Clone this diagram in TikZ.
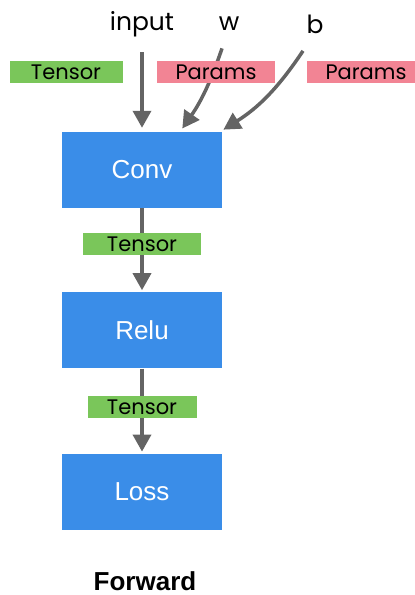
\documentclass[tikz,border=0pt]{standalone}
\usepackage{fontspec}
\setsansfont{Liberation Sans}
\newfontfamily\handfont{Poppins}
\usepackage{tikz}
\usetikzlibrary{positioning,arrows.meta}

\definecolor{layerblue}{RGB}{58,141,232}
\definecolor{tensorgreen}{RGB}{122,198,90}
\definecolor{paramspink}{RGB}{242,132,148}
\definecolor{flowgray}{RGB}{100,100,100}

\tikzset{
  layer/.style={minimum width=160pt, minimum height=76pt, fill=layerblue, text=white, font=\sffamily\fontsize{26}{30}\selectfont},
  varname/.style={font=\handfont\fontsize{25}{30}\selectfont},
  tag/.style={minimum height=22pt, inner sep=0pt, font=\handfont\fontsize{21}{24}\selectfont},
  flow/.style={draw=flowgray, line width=3.5pt, -{Triangle[width=18pt,length=17pt]}}
}

\begin{document}
\begin{tikzpicture}[x=1pt,y=-1pt]
		\useasboundingbox (0,0) rectangle (415,595);

		\node[layer] (conv) at (142,170) {Conv};
		\node[layer, below=84pt of conv] (relu) {Relu};
		\node[layer, below=85pt of relu] (loss) {Loss};
		\node[inner sep=0pt, font=\sffamily\bfseries\fontsize{26}{30}\selectfont] (fwd) at (145,581) {Forward};

		\node[varname] (input) at (142,24) {input};
		\node[varname] (w) at (229,24) {w};
		\node[varname] (b) at (315,24) {b};

		% arrows from the inputs
		\draw[flow, shorten <=12pt, shorten >=4pt] (input.south) -- (conv.north);
		\draw[flow, shorten >=4pt] ([xshift=-7pt,yshift=-14pt]w.south) to[bend left=8] ([xshift=38pt]conv.north);
		\draw[flow, shorten >=4pt] ([xshift=-12pt,yshift=-14pt]b.south) to[bend left=12] ([xshift=78pt]conv.north);

		\draw[flow, shorten >=2pt] (conv) -- (relu);
		\draw[flow, shorten >=2pt] (relu) -- (loss);

		% tags
		\node[tag, fill=tensorgreen, minimum width=113pt] (intag) at (66,72) {Tensor};
		\node[tag, fill=paramspink, minimum width=118pt] (wtag) at (216,72) {Params};
		\node[tag, fill=paramspink, minimum width=118pt] (btag) at (366,72) {Params};
		\node[tag, fill=tensorgreen, minimum width=118pt] (t1) at (142,244) {Tensor};
		\node[tag, fill=tensorgreen, minimum width=109pt] (t2) at (142,407) {Tensor};
	\end{tikzpicture}
\end{document}
